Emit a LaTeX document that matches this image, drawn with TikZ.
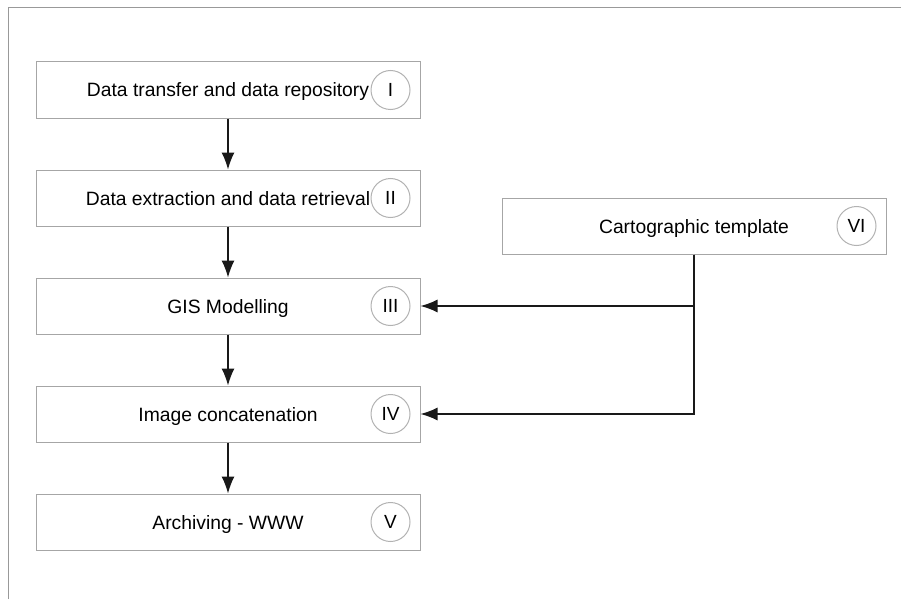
\documentclass[tikz,border=0pt]{standalone}
\usepackage{fontspec}
\setmainfont{Liberation Sans}
\usetikzlibrary{positioning, arrows.meta}
\tikzset{>={Latex[length=17pt,width=13pt]}}
\tikzset{stage/.style = {draw = black!35, line width = 1pt, minimum width = 384pt, minimum height = 56pt, inner sep = 0pt, text height = 14pt, text depth = 0pt, font = \fontsize{19.3}{22}\selectfont}}
\tikzset{tag/.style = {draw = black!30, line width = 1pt, circle, minimum size = 39pt, inner sep = 0pt, font = \fontsize{19}{22}\selectfont}}
\tikzset{flow/.style = {->, line width = 1.3pt, black!90}}

\begin{document}
\begin{tikzpicture}[x = 1pt, y = 1pt]
\useasboundingbox (0,0) rectangle (901,-599);
\draw[black!40, line width = 1pt] (8,-599) -- (8,-8) -- (901,-8);
% processing chain
\node[stage] (s1) at (228,-90) {Data transfer and data repository};
\node[stage, below = 51pt of s1] (s2) {Data extraction and data retrieval};
\node[stage, below = 51pt of s2] (s3) {GIS Modelling};
\node[stage, below = 51pt of s3] (s4) {Image concatenation};
\node[stage, below = 51pt of s4] (s5) {Archiving - WWW};
\node[stage] (s6) at (694,-226) {Cartographic template};
% step numbers
\node[tag, left = 10pt of s1.east] (t1) {I};
\node[tag, left = 10pt of s2.east] (t2) {II};
\node[tag, left = 10pt of s3.east] (t3) {III};
\node[tag, left = 10pt of s4.east] (t4) {IV};
\node[tag, left = 10pt of s5.east] (t5) {V};
\node[tag, left = 10pt of s6.east] (t6) {VI};
% connectors
\draw[flow] (s1) -- (s2);
\draw[flow] (s2) -- (s3);
\draw[flow] (s3) -- (s4);
\draw[flow] (s4) -- (s5);
\draw[flow] (s6.south) |- (s3.east);
\draw[flow] (s6.south) |- (s4.east);
\end{tikzpicture}
\end{document}
